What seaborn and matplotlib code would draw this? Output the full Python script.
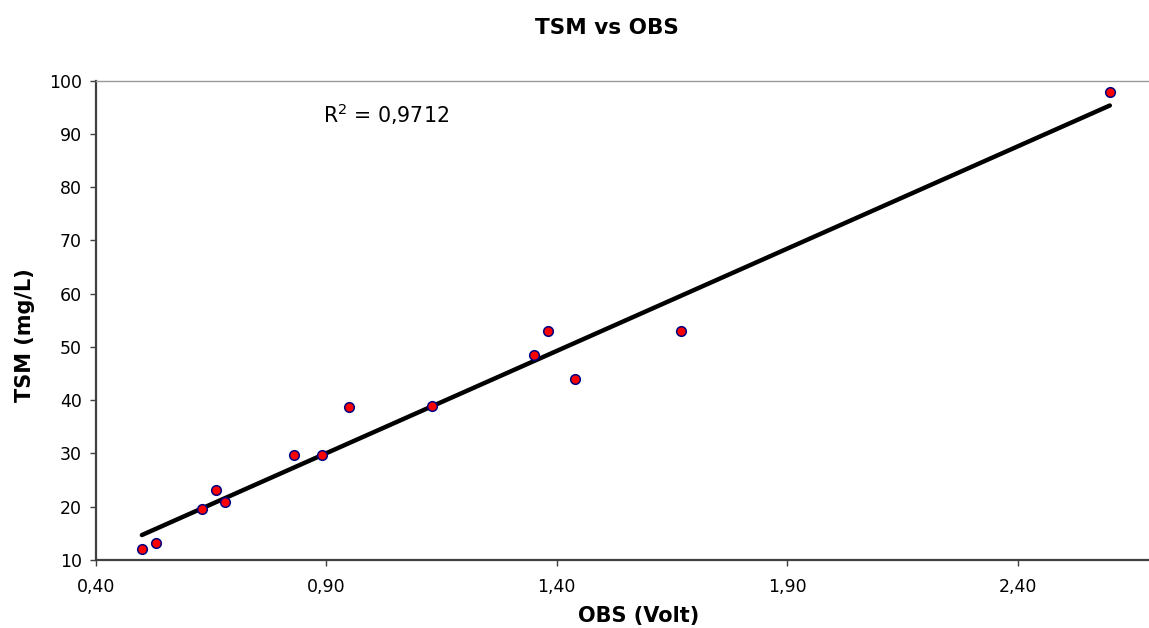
import matplotlib
matplotlib.use("Agg")
import matplotlib.pyplot as plt
import matplotlib.ticker as mticker
import numpy as np
import pandas as pd
import seaborn as sns

# OBS sensor reading (Volt) and measured TSM (mg/L)
obs_volt = [0.50, 0.53, 0.63, 0.66, 0.68, 0.83, 0.89, 0.95, 1.13, 1.35, 1.38, 1.44, 1.67, 2.60]
tsm_mgl = [12.1, 13.1, 19.6, 23.1, 20.8, 29.7, 29.7, 38.7, 39.0, 48.5, 53.0, 44.0, 53.0, 97.8]
r_squared_label = "0,9712"

x_ticks = [0.40, 0.90, 1.40, 1.90, 2.40]
y_ticks = [10, 20, 30, 40, 50, 60, 70, 80, 90, 100]

df = pd.DataFrame({"OBS": obs_volt, "TSM": tsm_mgl})

sns.set_theme(style="white")
plt.rcParams["font.family"] = ["DejaVu Sans"]
plt.rcParams["text.color"] = "black"

fig = plt.figure(figsize=(11.49, 6.28), dpi=100)
ax = fig.add_axes([95.8 / 1149, 1 - 560 / 628, 1 - 95.8 / 1149, (560 - 80.7) / 628])

# linear trend line through the data range
sns.regplot(data=df, x="OBS", y="TSM", ax=ax, ci=None, scatter=False,
            line_kws=dict(color="black", lw=3.2, solid_capstyle="round", zorder=2))
# sample points
sns.scatterplot(data=df, x="OBS", y="TSM", ax=ax, color="#ff0000",
                edgecolor="#000080", linewidth=1.1, s=48, zorder=3)

ax.set_xlim(0.40, 2.685)
ax.set_ylim(10, 100)
ax.set_xticks(x_ticks)
ax.set_yticks(y_ticks)
ax.xaxis.set_major_formatter(mticker.FuncFormatter(lambda v, p: f"{v:.2f}".replace(".", ",")))
ax.tick_params(axis="both", direction="out", length=4, width=1, color="#404040",
               labelsize=12.5, labelcolor="black", bottom=True, left=True)
ax.tick_params(axis="x", pad=9)
ax.tick_params(axis="y", pad=6)

for side in ("left", "bottom"):
    ax.spines[side].set_color("#404040")
    ax.spines[side].set_linewidth(1.6)
ax.spines["top"].set_color("#9a9a9a")
ax.spines["top"].set_linewidth(1.0)
ax.spines["right"].set_visible(False)
ax.grid(False)

ax.set_xlabel("")
ax.set_ylabel("")
fig.text(639 / 1149, 1 - 616 / 628, "OBS (Volt)", ha="center", va="center",
         fontsize=15, fontweight="bold", color="black")
fig.text(25 / 1149, 1 - 335 / 628, "TSM (mg/L)", ha="center", va="center",
         rotation=90, fontsize=15, fontweight="bold", color="black")
fig.text(607 / 1149, 1 - 28 / 628, "TSM vs OBS", ha="center", va="center",
         fontsize=15.5, fontweight="bold", color="black")

ax.text(0.892, 92.1, r"R$^2$ = " + r_squared_label, fontsize=14.8, ha="left",
        va="baseline", color="black")

fig.savefig("out.png", dpi=100)
